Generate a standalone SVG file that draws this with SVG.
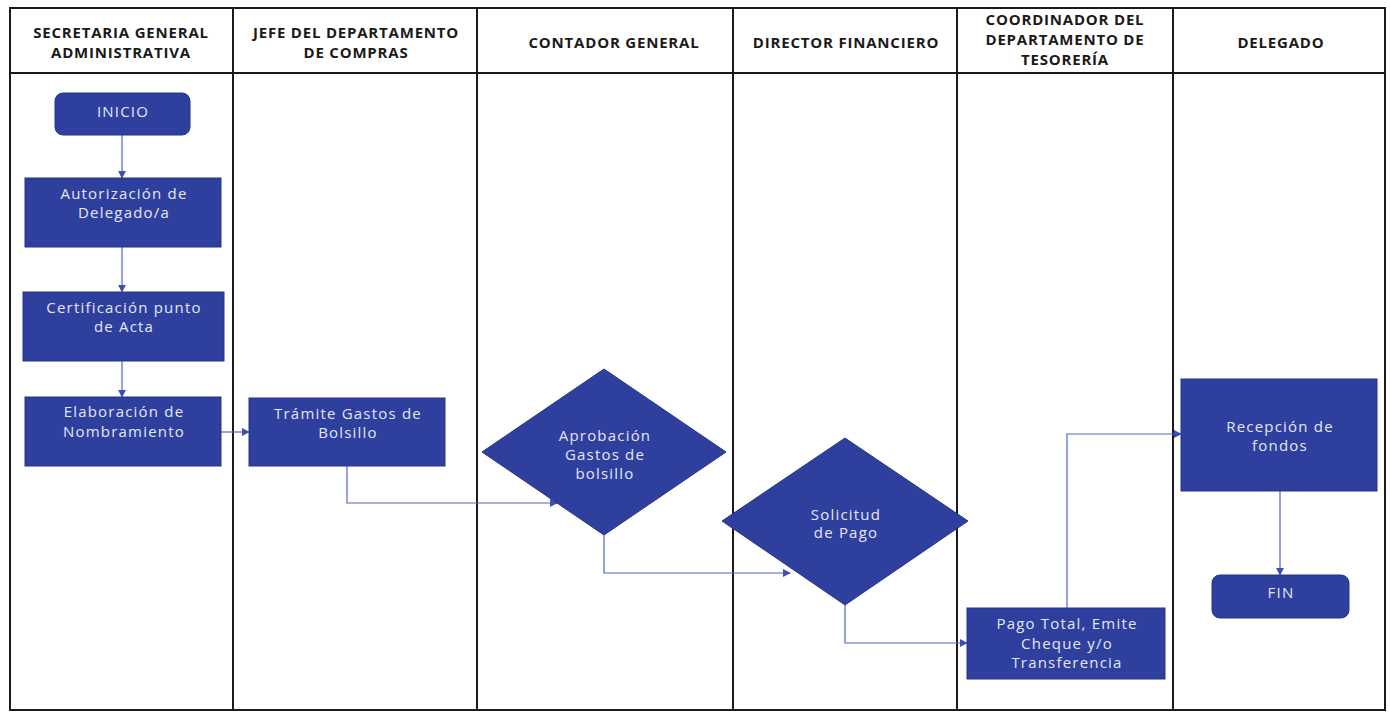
<svg xmlns="http://www.w3.org/2000/svg" width="1390" height="713" viewBox="0 0 1390 713">
<style>
.lane{fill:none;stroke:#1a1a1a;stroke-width:2}
.hdr{font-family:"Open Sans","Liberation Sans",sans-serif;font-weight:bold;font-size:15px;letter-spacing:0.8px;fill:#1a1a1a;text-anchor:middle}
.node{fill:#2f3f9e;stroke:#26358a;stroke-width:1}
.lbl{font-family:"Open Sans","Liberation Sans",sans-serif;font-size:15px;letter-spacing:1.2px;fill:#e4e7f6;text-anchor:middle}
.conn{fill:none;stroke:#5566c0;stroke-width:1.2;marker-end:url(#arr)}
</style>
<defs>
<marker id="arr" viewBox="0 0 10 10" refX="9" refY="5" markerWidth="8" markerHeight="8" markerUnits="userSpaceOnUse" orient="auto">
<path d="M0,0 L10,5 L0,10 z" fill="#3d4fb5"/>
</marker>
</defs>
<rect width="1390" height="713" fill="#ffffff"/>
<g id="lanes">
<rect class="lane" x="10" y="8" width="1375" height="702"/>
<line class="lane" x1="10" y1="73" x2="1385" y2="73"/>
<line class="lane" x1="233" y1="8" x2="233" y2="710"/>
<line class="lane" x1="477" y1="8" x2="477" y2="710"/>
<line class="lane" x1="733" y1="8" x2="733" y2="710"/>
<line class="lane" x1="957" y1="8" x2="957" y2="710"/>
<line class="lane" x1="1173" y1="8" x2="1173" y2="710"/>
<text class="hdr" x="121" y="38">SECRETARIA GENERAL</text>
<text class="hdr" x="121" y="58">ADMINISTRATIVA</text>
<text class="hdr" x="356" y="38">JEFE DEL DEPARTAMENTO</text>
<text class="hdr" x="356" y="58">DE COMPRAS</text>
<text class="hdr" x="614" y="48">CONTADOR GENERAL</text>
<text class="hdr" x="846" y="48">DIRECTOR FINANCIERO</text>
<text class="hdr" x="1065" y="25">COORDINADOR DEL</text>
<text class="hdr" x="1065" y="45">DEPARTAMENTO DE</text>
<text class="hdr" x="1065" y="65">TESORERÍA</text>
<text class="hdr" x="1281" y="48">DELEGADO</text>
</g>
<g id="connectors">
<path class="conn" d="M122,135 L122,178"/>
<path class="conn" d="M122,247 L122,292"/>
<path class="conn" d="M122,361 L122,397"/>
<path class="conn" d="M221,432 L249,432"/>
<path class="conn" d="M347,466 L347,503 L557,503"/>
<path class="conn" d="M604,535 L604,573 L790,573"/>
<path class="conn" d="M845,605 L845,643 L967,643"/>
<path class="conn" d="M1067,608 L1067,434 L1181,434"/>
<path class="conn" d="M1280,491 L1280,575"/>
</g>
<g id="inicio">
<rect class="node" x="55" y="93" width="135" height="42" rx="8"/>
<text class="lbl" x="123" y="117">INICIO</text>
</g>
<g id="autorizacion">
<rect class="node" x="25" y="178" width="196" height="69"/>
<text class="lbl" x="124" y="199">Autorización de</text>
<text class="lbl" x="124" y="218">Delegado/a</text>
</g>
<g id="certificacion">
<rect class="node" x="23" y="292" width="201" height="69"/>
<text class="lbl" x="124" y="313">Certificación punto</text>
<text class="lbl" x="124" y="332">de Acta</text>
</g>
<g id="elaboracion">
<rect class="node" x="25" y="397" width="196" height="69"/>
<text class="lbl" x="124" y="417">Elaboración de</text>
<text class="lbl" x="124" y="437">Nombramiento</text>
</g>
<g id="tramite">
<rect class="node" x="249" y="398" width="196" height="68"/>
<text class="lbl" x="348" y="419">Trámite Gastos de</text>
<text class="lbl" x="348" y="438">Bolsillo</text>
</g>
<g id="aprobacion">
<polygon class="node" points="604,369 726,452 604,535 482,452"/>
<text class="lbl" x="605" y="441">Aprobación</text>
<text class="lbl" x="605" y="460">Gastos de</text>
<text class="lbl" x="605" y="479">bolsillo</text>
</g>
<g id="solicitud">
<polygon class="node" points="845,438 968,521 845,605 722,521"/>
<text class="lbl" x="846" y="520">Solicitud</text>
<text class="lbl" x="846" y="538">de Pago</text>
</g>
<g id="pago">
<rect class="node" x="967" y="608" width="198" height="71"/>
<text class="lbl" x="1067" y="629">Pago Total, Emite</text>
<text class="lbl" x="1067" y="649">Cheque y/o</text>
<text class="lbl" x="1067" y="668">Transferencia</text>
</g>
<g id="recepcion">
<rect class="node" x="1181" y="379" width="196" height="112"/>
<text class="lbl" x="1280" y="432">Recepción de</text>
<text class="lbl" x="1280" y="451">fondos</text>
</g>
<g id="fin">
<rect class="node" x="1212" y="575" width="137" height="43" rx="8"/>
<text class="lbl" x="1281" y="598">FIN</text>
</g>
</svg>
